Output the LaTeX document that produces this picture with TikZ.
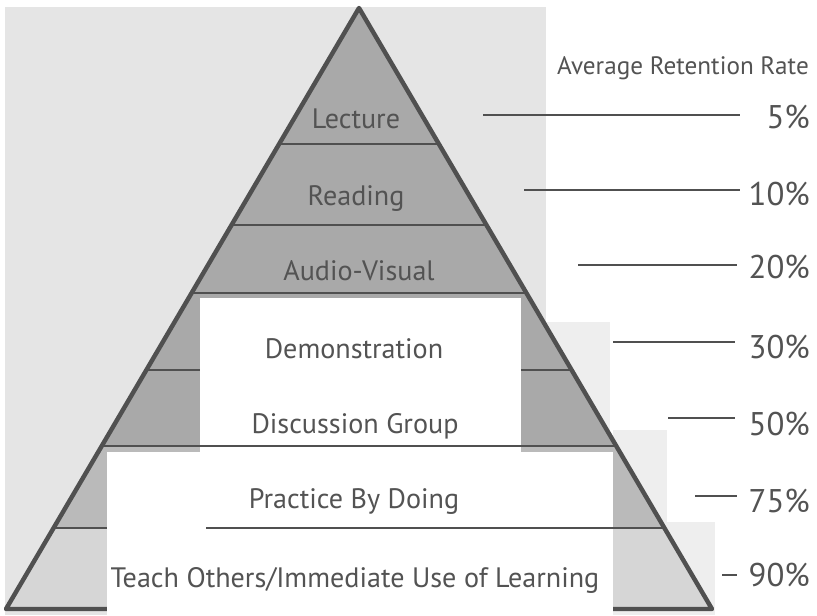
\documentclass[tikz,border=0pt]{standalone}
\usepackage{fontspec}
\setmainfont{PT Sans}
\definecolor{page}{HTML}{E5E5E5}
\definecolor{patch}{HTML}{EEEEEE}
\definecolor{pyr}{HTML}{A9A9A9}
\definecolor{bandsix}{HTML}{BABABA}
\definecolor{bandseven}{HTML}{D6D6D6}
\definecolor{edgec}{HTML}{505050}
\definecolor{ink}{HTML}{535353}
\begin{document}
\begin{tikzpicture}[x=0.03cm,y=-0.03cm,
  edge/.style={draw=edgec, line width=3.8pt, line join=round},
  bandline/.style={draw=edgec, line width=1.5pt},
  rate/.style={draw=edgec, line width=1.8pt},
  lbl/.style={text=ink, font=\fontsize{24}{26}\selectfont, inner sep=0pt, anchor=base},
  pct/.style={text=ink, font=\fontsize{28}{30}\selectfont, inner sep=0pt, anchor=base east},
  head/.style={text=ink, font=\fontsize{21.5}{24}\selectfont, inner sep=0pt, anchor=base east},
]
\useasboundingbox (0,0) rectangle (817,615);
\fill[white] (0,0) rectangle (817,615);
% scanned page background
\fill[page] (5,7) rectangle (546,615);
\fill[patch] (546,322) rectangle (610,452);
\fill[patch] (613,430) rectangle (667,522);
\fill[patch] (613,522) rectangle (715,615);
% pyramid
\coordinate (A) at (359,8);
\coordinate (BL) at (6,609);
\coordinate (BR) at (712,609);
\fill[pyr] (A)--(BL)--(BR)--cycle;
\begin{scope}
  \clip (A)--(BL)--(BR)--cycle;
  \fill[bandsix] (0,446) rectangle (817,528);
  \fill[bandseven] (0,528) rectangle (817,609);
  \foreach \y in {144,225,293,370,446,528} \draw[bandline] (0,\y)--(817,\y);
\end{scope}
\draw[edge] (A)--(BL)--(BR)--cycle;
% white retouched areas
\fill[white] (200,298) rectangle (521,452);
\fill[white] (107,452) rectangle (613,615);
% lines visible over white
\coordinate (dgL) at (102,446);
\coordinate (dgR) at (616,446);
\draw[bandline] (dgL)--(dgR);
\coordinate (pbL) at (206,528);
\coordinate (pbR) at (664,528);
\draw[bandline] (pbL)--(pbR);
% pyramid labels
\node[lbl] (lec) at (356,128) {Lecture};
\node[lbl] (rea) at (356,205) {Reading};
\node[lbl] (av)  at (359,280) {Audio-Visual};
\node[lbl] (dem) at (354,358) {Demonstration};
\node[lbl] (dis) at (355,433) {Discussion Group};
\node[lbl] (pra) at (354,508) {Practice By Doing};
\node[lbl] (tea) at (355,587) {Teach Others/Immediate Use of Learning};
% retention rates
\node[head] (hd) at (809,74) {Average Retention Rate};
\node[pct] (p5)  at (810,128) {5\%};
\node[pct] (p10) at (810,205) {10\%};
\node[pct] (p20) at (810,278) {20\%};
\node[pct] (p30) at (810,358) {30\%};
\node[pct] (p50) at (810,435) {50\%};
\node[pct] (p75) at (810,512) {75\%};
\node[pct] (p90) at (810,586) {90\%};
\coordinate (l5) at (483,115);  \coordinate (r5) at (740,115);
\coordinate (l10) at (524,190); \coordinate (r10) at (740,190);
\coordinate (l20) at (578,265); \coordinate (r20) at (737,265);
\coordinate (l30) at (613,342); \coordinate (r30) at (735,342);
\coordinate (l50) at (668,418); \coordinate (r50) at (735,418);
\coordinate (l75) at (695,496); \coordinate (r75) at (737,496);
\coordinate (l90) at (722,575); \coordinate (r90) at (737,575);
\draw[rate] (l5)--(r5);
\draw[rate] (l10)--(r10);
\draw[rate] (l20)--(r20);
\draw[rate] (l30)--(r30);
\draw[rate] (l50)--(r50);
\draw[rate] (l75)--(r75);
\draw[rate] (l90)--(r90);
\end{tikzpicture}
\end{document}
